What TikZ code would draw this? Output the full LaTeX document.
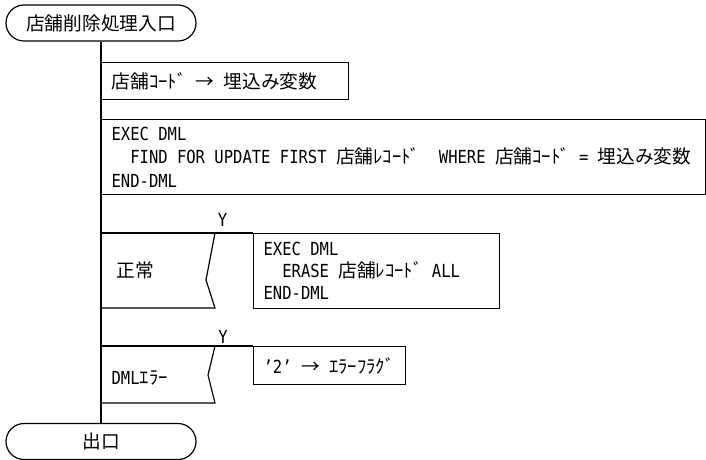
\documentclass[tikz,border=0pt]{standalone}
\usepackage{fontspec}
\setmainfont[FakeStretch=0.863]{DejaVu Sans Mono}
\newfontfamily\jp[Scale=1.039]{Noto Sans CJK JP}
\newcommand\sk{\hspace*{9.35pt}}
\begin{document}
\begin{tikzpicture}[x=1pt,y=-1pt,line width=1.2pt,
  every node/.style={font=\fontsize{18}{23.5}\selectfont, inner sep=0pt},
  term/.style={draw, rounded corners=18pt, minimum width=190pt, minimum height=36pt},
  procbox/.style={draw, anchor=north west, align=left, inner xsep=10pt, inner ysep=0pt}]
\useasboundingbox (0,0) rectangle (706,459);
% terminals
\node[term] (start) at (101,23) {\jp 店舗削除処理入口};
\node[term] (exit) at (101,441.5) {\jp 出口};
\draw (start.south) -- (exit.north);
% process boxes
\node[procbox, minimum width=247pt, text width=227pt, minimum height=37pt] (p1) at (101,62)
  {{\jp 店舗ｺｰﾄﾞ}\sk{\jp →}\sk{\jp 埋込み変数}};
\node[procbox, minimum width=604pt, text width=584pt, minimum height=75pt] (p2) at (101,119)
  {EXEC\sk DML\\\sk\sk FIND\sk FOR\sk UPDATE\sk FIRST\sk{\jp 店舗ﾚｺｰﾄﾞ}\sk\sk WHERE\sk{\jp 店舗ｺｰﾄﾞ}\sk=\sk{\jp 埋込み変数}\\END-DML};
% condition 1
\node[procbox, minimum width=246pt, text width=226pt, minimum height=75pt,
  font=\fontsize{18}{22}\selectfont] (a1) at (253,233)
  {EXEC\sk DML\\\sk\sk ERASE\sk{\jp 店舗ﾚｺｰﾄﾞ}\sk ALL\\END-DML};
\coordinate (c1t) at (101,233);
\coordinate (c1b) at (101,308);
\draw (c1t) -- (a1.north west);
\draw (215,233) -- (206,280) -- (215,308) -- (c1b);
\node[anchor=west] (c1) at (116,270) {\jp 正常};
\node (y1) at (222.5,220) {Y};
% condition 2
\node[procbox, minimum width=152pt, text width=132pt, minimum height=38pt] (a2) at (253,346)
  {'2'\sk{\jp →}\sk{\jp ｴﾗｰﾌﾗｸﾞ}};
\coordinate (c2t) at (101,346);
\coordinate (c2b) at (101,403);
\draw (c2t) -- (a2.north west);
\draw (215,346) -- (208,375) -- (215,403) -- (c2b);
\node[anchor=west] (c2) at (111,378) {DML{\jp ｴﾗｰ}};
\node (y2) at (223,337) {Y};
\end{tikzpicture}
\end{document}
